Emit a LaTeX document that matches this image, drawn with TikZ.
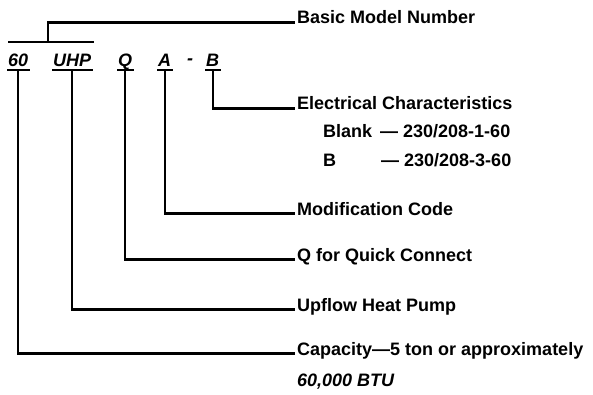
\documentclass[tikz,border=0pt]{standalone}
\usepackage{fontspec}
\setmainfont{Liberation Sans}
\newcommand{\tamano}{\fontsize{18}{21}\selectfont}
\tikzset{
  linea/.style={line width=2.2pt, line cap=rect},
  codigo/.style={anchor=base west, inner xsep=0pt, inner ysep=2.5pt, text depth=0pt, font=\tamano\bfseries\itshape},
  texto/.style={anchor=base west, inner sep=0pt, font=\tamano\bfseries}
}
\begin{document}
\begin{tikzpicture}[x=1pt, y=-1pt]
\useasboundingbox (0,0) rectangle (593,395);

% Codigo del modelo
\node[codigo] (c60)  at (8,67)   {60};
\node[codigo] (cUHP) at (53,67)  {UHP};
\node[codigo] (cQ)   at (118,67) {Q};
\node[codigo] (cA)   at (158,67) {A};
\node[codigo] (guion) at (187,65) {-};
\node[codigo] (cB)   at (206,67) {B};
	\foreach \c in {c60, cUHP, cQ, cA, cB}
		\draw[linea] (\c.south west) -- (\c.south east);

% Numero basico
\node[texto] (basico) at (297,24) {Basic Model Number};
\coordinate (izq) at (9,42);
\coordinate (der) at (93,42);
\draw[linea] (izq) -- (der);
\draw[linea] (48,42) |- ([shift={(-3pt,1.5pt)}]basico.base west);

% Descripciones
\node[texto] (elec)   at (297,110) {Electrical Characteristics};
\node[texto] (blank)  at (323,138) {Blank};
\node[texto] (b)      at (323,167) {B};
\node[texto] (v1)     at (380,138) {--- 230/208-1-60};
\node[texto] (v3)     at (381,167) {--- 230/208-3-60};
\node[texto] (modif)  at (297,215) {Modification Code};
\node[texto] (quick)  at (297,261) {Q for Quick Connect};
\node[texto] (upflow) at (297,311) {Upflow Heat Pump};
\node[texto] (cap)    at (297,355) {Capacity---5 ton or approximately};
\node[texto, font=\tamano\bfseries\itshape] (btu) at (297,386) {60,000 BTU};

	\foreach \c/\l in {c60/cap, cUHP/upflow, cQ/quick, cA/modif, cB/elec}
		\draw[linea] (\c.south) |- ([shift={(-3pt,1.5pt)}]\l.base west);
\end{tikzpicture}
\end{document}
